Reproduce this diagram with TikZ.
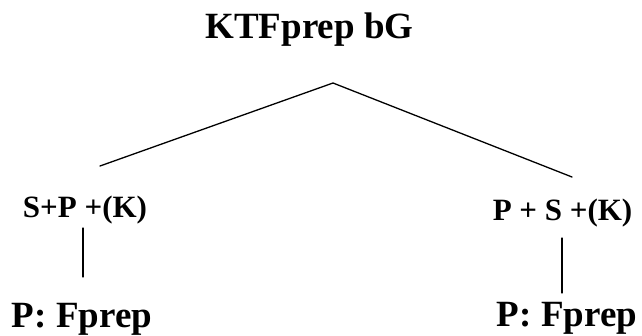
\documentclass[tikz,border=0pt]{standalone}
\usepackage{fontspec}
\setmainfont{Liberation Serif}
\begin{document}
\begin{tikzpicture}[x=1pt,y=-1pt,
  big/.style={inner sep=0pt,anchor=base,font=\fontsize{37}{44}\selectfont\bfseries},
  mid/.style={inner sep=0pt,anchor=base,font=\fontsize{31}{37}\selectfont\bfseries},
  edge/.style={line width=1.3pt,line cap=round}]
\useasboundingbox (0,0) rectangle (642,335);
\node[big] (title) at (309.5,38) {KTFprep bG};
\node[mid] (lmid) at (85,217) {S+P +(K)};
\node[mid] (rmid) at (562.5,220) {P + S +(K)};
\node[big] (lbot) at (82,327) {P: Fprep};
\node[big] (rbot) at (567,326) {P: Fprep};
\coordinate (apex) at (333,83);
\coordinate (lend) at (100,166);
\coordinate (rend) at (572,177);
\coordinate (lv1) at (83,228);
\coordinate (lv2) at (83,277);
\coordinate (rv1) at (562,238);
\coordinate (rv2) at (562,293);
\draw[edge] (lend) -- (apex) -- (rend);
\draw[edge] (lv1) -- (lv2);
\draw[edge] (rv1) -- (rv2);
\end{tikzpicture}
\end{document}
